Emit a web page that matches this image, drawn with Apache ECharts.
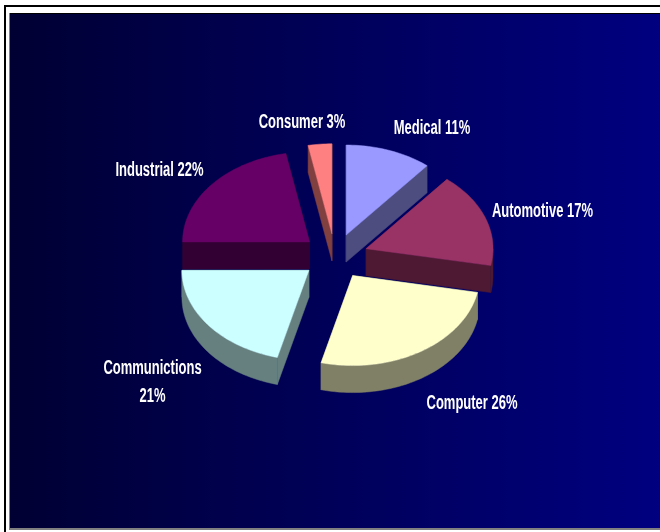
<!DOCTYPE html>
<html>
<head>
<meta charset="utf-8">
<style>html,body{margin:0;padding:0;background:#fff}#chart{width:660px;height:532px}</style>
<script src="https://cdn.jsdelivr.net/npm/echarts@6/dist/echarts.min.js"></script>
</head>
<body>
<div id="chart"></div>
<script>
// Market share by segment, clockwise from twelve o'clock.
const categories = ['Medical', 'Automotive', 'Computer', 'Communictions', 'Industrial', 'Consumer'];
const shares = [11, 17, 26, 21, 22, 3];
const topColors = ['#9999FF', '#993366', '#FFFFCC', '#CCFFFF', '#660066', '#FF8080'];
const wallColors = ['#4D4D80', '#4D1933', '#808066', '#668080', '#330033', '#804040'];
const labelBreaks = [' ', ' ', ' ', '\n', ' ', ' '];
const labelCentres = [[432, 128], [542.5, 211], [472, 403], [152.5, 382], [159.5, 170], [302, 122]];

// Projected pie geometry.
const pie = { cx: 335, cy: 256.4, rx: 127, ry: 90, depth: 27, explodeX: 33, explodeY: 22.7 };

const total = shares.reduce((a, b) => a + b, 0);
let running = 0;
const slices = shares.map((share, i) => {
  const start = running / total * 2 * Math.PI;
  running += share;
  const end = running / total * 2 * Math.PI;
  const mid = (start + end) / 2;
  return {
    start, end, mid,
    ax: pie.cx + pie.explodeX * Math.sin(mid),
    ay: pie.cy - pie.explodeY * Math.cos(mid)
  };
});

// Painter's order: the slices furthest from the viewer go first.
const drawOrder = slices.map((s, i) => i).sort((a, b) => Math.cos(slices[b].mid) - Math.cos(slices[a].mid));

function rimPoint(s, angle, drop) {
  return [s.ax + pie.rx * Math.sin(angle), s.ay - pie.ry * Math.cos(angle) + drop];
}
function arcPoints(s, from, to, drop) {
  const steps = Math.max(2, Math.ceil((to - from) / (Math.PI / 120)));
  const pts = [];
  for (let k = 0; k <= steps; k++) pts.push(rimPoint(s, from + (to - from) * k / steps, drop));
  return pts;
}

function renderSlice(params, api) {
  const i = api.value(0);
  const s = slices[i];
  const wall = wallColors[i];
  const children = [];
  const polygon = (points, fill) => children.push({
    type: 'polygon',
    shape: { points },
    style: { fill, stroke: fill, lineWidth: 0.5 }
  });

  // Cut faces, running from the apex out to the rim.
  [s.start, s.end].forEach(angle => {
    const p = rimPoint(s, angle, 0);
    polygon([[s.ax, s.ay], p, [p[0], p[1] + pie.depth], [s.ax, s.ay + pie.depth]], wall);
  });

  // Outer wall, only on the front half of the ellipse.
  const from = Math.max(s.start, Math.PI / 2);
  const to = Math.min(s.end, 3 * Math.PI / 2);
  if (to > from) {
    polygon(arcPoints(s, from, to, 0).concat(arcPoints(s, from, to, pie.depth).reverse()), wall);
  }

  // Top surface.
  polygon([[s.ax, s.ay]].concat(arcPoints(s, s.start, s.end, 0)), topColors[i]);

  // Slice label.
  children.push({
    type: 'text',
    x: labelCentres[i][0],
    y: labelCentres[i][1],
    scaleX: 0.65,
    z2: 50,
    style: {
      text: categories[i] + labelBreaks[i] + shares[i] + '%',
      fill: '#FFFFFF',
      font: 'bold 20px "Liberation Sans", Arial, sans-serif',
      lineHeight: 28,
      align: 'center',
      verticalAlign: 'middle'
    }
  });
  return { type: 'group', children };
}

const chart = echarts.init(document.getElementById('chart'), null, { renderer: 'canvas' });
chart.setOption({
  animation: false,
  backgroundColor: '#FFFFFF',
  graphic: [
    // Panel with its left-to-right navy fade.
    { type: 'rect', shape: { x: 9, y: 13, width: 651, height: 515 },
      style: { fill: new echarts.graphic.LinearGradient(0, 0, 1, 0, [
        { offset: 0, color: '#000033' }, { offset: 1, color: '#000080' }
      ]) } },
    // Panel edges.
    { type: 'rect', shape: { x: 9, y: 13, width: 651, height: 1 }, style: { fill: '#000000' } },
    { type: 'rect', shape: { x: 9, y: 13, width: 1, height: 515 }, style: { fill: '#808080' } },
    { type: 'rect', shape: { x: 9, y: 528, width: 651, height: 2 }, style: { fill: '#808080' } },
    // Outer frame.
    { type: 'rect', shape: { x: 4, y: 5, width: 656, height: 2 }, style: { fill: '#000000' } },
    { type: 'rect', shape: { x: 4, y: 5, width: 2, height: 527 }, style: { fill: '#000000' } }
  ],
  series: [{
    type: 'custom',
    coordinateSystem: 'none',
    silent: true,
    clip: false,
    data: drawOrder.map(i => [i]),
    renderItem: renderSlice
  }]
});
</script>
</body>
</html>
